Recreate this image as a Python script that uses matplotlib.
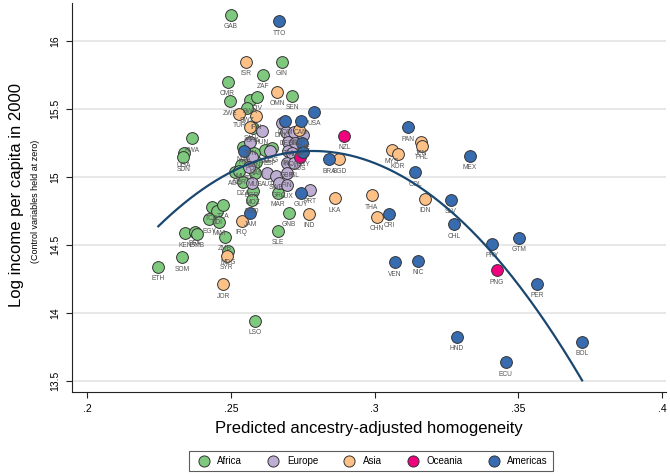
import matplotlib
matplotlib.use("Agg")
import matplotlib.pyplot as plt
import numpy as np
from matplotlib.lines import Line2D

plt.rcParams['font.family'] = ['Liberation Sans', 'DejaVu Sans']

# ---------------- data ----------------
africa_codes = ["GAB", "GIN", "CMR", "ZAF", "SEN", "ZWE", "BWA", "CIV", "SWZ", "GHA",
                "RWA", "UGA", "SDN", "NGA", "CAF", "COG", "BEN", "NAM", "MLI", "AGO",
                "NER", "MUS", "DZA", "MOZ", "TGO", "MAR", "GNB", "SLE", "TCD", "BDI",
                "TZA", "EGY", "MWI", "ZMB", "KEN", "BFA", "GMB", "MDG", "SOM", "ETH", "LSO"]
africa_x = [0.2501, 0.2678, 0.2489, 0.2612, 0.2713, 0.2497, 0.2567, 0.2593, 0.2557, 0.2578,
            0.2366, 0.2338, 0.2335, 0.2544, 0.2619, 0.2642, 0.2581, 0.2589, 0.2535, 0.2515,
            0.2530, 0.2584, 0.2544, 0.2578, 0.2573, 0.2665, 0.2702, 0.2665, 0.2434, 0.2453,
            0.2474, 0.2425, 0.2460, 0.2480, 0.2341, 0.2376, 0.2383, 0.2491, 0.2331, 0.2248, 0.2585]
africa_y = [16.191, 15.846, 15.699, 15.750, 15.596, 15.555, 15.566, 15.588, 15.505, 15.358,
            15.285, 15.174, 15.145, 15.218, 15.199, 15.211, 15.174, 15.112, 15.088, 15.039,
            15.046, 15.032, 14.965, 14.897, 14.831, 14.885, 14.735, 14.603, 14.779, 14.752,
            14.794, 14.689, 14.671, 14.561, 14.586, 14.598, 14.581, 14.456, 14.410, 14.340, 13.943]

europe_codes = ["HUN", "DNK", "DEU", "BEL", "CHE", "SVN", "FRA", "NLD", "ESP", "IRL",
                "NOR", "POL", "ITA", "GBR", "ISL", "AUT", "SWE", "FIN", "BGR", "GRC",
                "LUX", "PRT"]
europe_x = [0.2608, 0.2677, 0.2693, 0.2721, 0.2752, 0.2567, 0.2698, 0.2723, 0.2637, 0.2698,
            0.2714, 0.2573, 0.2565, 0.2695, 0.2720, 0.2627, 0.2657, 0.2695, 0.2573, 0.2669,
            0.2695, 0.2776]
europe_y = [15.340, 15.395, 15.333, 15.333, 15.305, 15.260, 15.260, 15.252, 15.188, 15.188,
            15.179, 15.149, 15.076, 15.101, 15.101, 15.032, 15.007, 15.027, 14.954, 14.954,
            14.941, 14.904]

asia_codes = ["ISR", "OMN", "TUR", "IRN", "SAU", "SGP", "BGD", "LKA", "IND", "IRQ",
              "SYR", "JOR", "THA", "CHN", "MYS", "KOR", "JPN", "PHL", "IDN"]
asia_x = [0.2553, 0.2661, 0.2530, 0.2588, 0.2567, 0.2738, 0.2878, 0.2861, 0.2773, 0.2538,
          0.2486, 0.2474, 0.2991, 0.3008, 0.3060, 0.3081, 0.3161, 0.3164, 0.3176]
asia_y = [15.846, 15.625, 15.463, 15.449, 15.371, 15.342, 15.129, 14.843, 14.728, 14.676,
          14.419, 14.211, 14.865, 14.708, 15.199, 15.167, 15.260, 15.228, 14.840]

oceania_codes = ["NZL", "AUS", "PNG"]
oceania_x = [0.2895, 0.2741, 0.3425]
oceania_y = [15.301, 15.147, 14.314]

americas_codes = ["TTO", "USA", "DOM", "CAN", "ARG", "URY", "HTI", "BRA", "GUY", "JAM",
                  "CRI", "PAN", "COL", "MEX", "SLV", "CHL", "PRY", "GTM", "VEN", "NIC",
                  "PER", "HND", "ECU", "BOL"]
americas_x = [0.2669, 0.2791, 0.2689, 0.2744, 0.2748, 0.2752, 0.2547, 0.2842, 0.2743, 0.2567,
              0.3051, 0.3118, 0.3141, 0.3332, 0.3266, 0.3277, 0.3410, 0.3504, 0.3071, 0.3152,
              0.3566, 0.3286, 0.3457, 0.3722]
americas_y = [16.145, 15.478, 15.415, 15.414, 15.250, 15.180, 15.193, 15.129, 14.882, 14.738,
              14.728, 15.365, 15.035, 15.157, 14.831, 14.652, 14.507, 14.554, 14.373, 14.385,
              14.215, 13.824, 13.638, 13.787]

# quadratic fit: y = peak_y - curvature * (x - peak_x)^2
fit_peak_x = 0.2785
fit_peak_y = 15.191
fit_curvature = 192.1

region_names = ["Africa", "Europe", "Asia", "Oceania", "Americas"]
region_colors = ["#7fc97f", "#beaed4", "#fdc086", "#f0027f", "#386cb0"]

xticks = [0.2, 0.25, 0.3, 0.35, 0.4]
xtick_labels = [".2", ".25", ".3", ".35", ".4"]
yticks = [13.5, 14, 14.5, 15, 15.5, 16]
ytick_labels = ["13.5", "14", "14.5", "15", "15.5", "16"]

# ---------------- plot ----------------
fig = plt.figure(figsize=(6.7, 4.76), dpi=100)
ax = fig.add_axes([72/670, 1-392/476, (666-72)/670, (392-3)/476])

groups = [
    (africa_codes, africa_x, africa_y),
    (europe_codes, europe_x, europe_y),
    (asia_codes, asia_x, asia_y),
    (oceania_codes, oceania_x, oceania_y),
    (americas_codes, americas_x, americas_y),
]

for (codes, xs, ys), col in zip(groups, region_colors):
    ax.scatter(xs, ys, s=72, color=col, edgecolor="#333333", linewidth=0.7, zorder=3)
    for c, xv, yv in zip(codes, xs, ys):
        ax.annotate(c, (xv, yv), xytext=(0, -8.6), textcoords="offset points",
                    ha="center", va="center", fontsize=4.8, color="#555555", zorder=4)

all_x = np.array(africa_x + europe_x + asia_x + oceania_x + americas_x)
xf = np.linspace(all_x.min(), all_x.max(), 200)
yf = fit_peak_y - fit_curvature * (xf - fit_peak_x) ** 2
ax.plot(xf, yf, color="#1a476f", lw=1.6, zorder=5)

ax.set_xlim(0.19478, 0.40139)
ax.set_ylim(13.419, 16.279)
ax.set_xticks(xticks)
ax.set_xticklabels(xtick_labels, fontsize=7.5)
ax.set_yticks(yticks)
ax.set_yticklabels(ytick_labels, fontsize=7.5, rotation=90, va="center")
ax.tick_params(axis="both", direction="out", length=4.5, width=0.8, color="#222222", pad=4)
ax.grid(axis="y", color="#e6e6e6", lw=1.3, zorder=0)
ax.set_axisbelow(True)
for s in ["top", "right"]:
    ax.spines[s].set_visible(False)
for s in ["left", "bottom"]:
    ax.spines[s].set_color("#222222")
    ax.spines[s].set_linewidth(0.8)

ax.set_xlabel("Predicted ancestry-adjusted homogeneity", fontsize=12, labelpad=5)
fig.text(17/670, 1-195/476, "Log income per capita in 2000", rotation=90,
         ha="center", va="center", fontsize=12)
fig.text(35/670, 1-201/476, "(Control variables held at zero)", rotation=90,
         ha="center", va="center", fontsize=6.5)

handles = [Line2D([0], [0], marker="o", linestyle="", markersize=8,
                  markerfacecolor=c, markeredgecolor="#333333", markeredgewidth=0.7)
           for c in region_colors]
leg = fig.legend(handles, region_names, loc="center", bbox_to_anchor=(371/670, 1-461/476),
                 ncol=5, fontsize=7, frameon=True, fancybox=False, edgecolor="#333333",
                 handletextpad=0.4, columnspacing=2.2, borderpad=0.5)
leg.get_frame().set_linewidth(0.8)

fig.savefig("out.png", dpi=100)
